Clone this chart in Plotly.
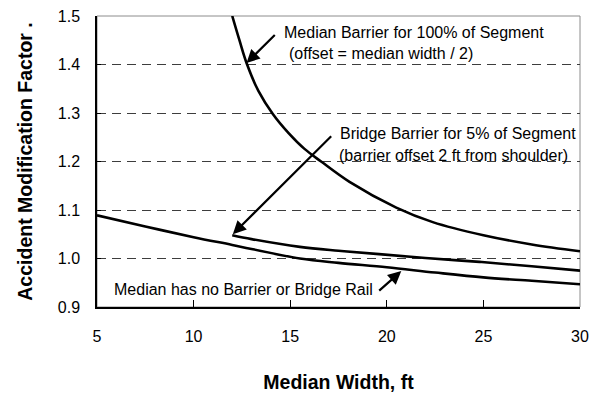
import plotly.graph_objects as go

# Median width (ft) and accident modification factor for each condition
barrier_x = [12.0, 12.38, 12.75, 13.36, 14.1, 14.93, 15.74, 16.6, 18.07, 20.49,
             22.38, 25.0, 27.5, 30.0]
barrier_y = [1.500, 1.449, 1.402, 1.345, 1.298, 1.258, 1.226, 1.200, 1.158, 1.105,
             1.075, 1.048, 1.029, 1.015]

bridge_x = [12.0, 13.0, 15.5, 17.5, 19.6, 22.0, 24.8, 27.5, 30.0]
bridge_y = [1.048, 1.040, 1.024, 1.016, 1.009, 1.001, 0.993, 0.984, 0.975]

none_x = [5.0, 7.5, 10.0, 12.0, 15.5, 17.5, 20.0, 22.5, 25.0, 27.5, 30.0]
none_y = [1.089, 1.066, 1.044, 1.028, 1.000, 0.991, 0.982, 0.971, 0.961, 0.954, 0.947]

x_ticks = [5, 10, 15, 20, 25, 30]
y_ticks = [0.9, 1.0, 1.1, 1.2, 1.3, 1.4, 1.5]

FONT = "Arial, Liberation Sans, sans-serif"

fig = go.Figure()
for xs, ys in [(barrier_x, barrier_y), (bridge_x, bridge_y), (none_x, none_y)]:
    fig.add_trace(go.Scatter(x=xs, y=ys, mode="lines",
                             line=dict(color="black", width=2.6, shape="spline", smoothing=1.0),
                             showlegend=False, hoverinfo="skip"))

# callout arrows (tail -> head in data units)
arrows = [
    ((14.28, 1.464), (12.74, 1.403)),
    ((17.20, 1.255), (12.03, 1.050)),
    ((19.53, 0.931), (20.75, 0.974)),
]
for (tx, ty), (hx, hy) in arrows:
    fig.add_annotation(x=hx, y=hy, ax=tx, ay=ty, xref="x", yref="y", axref="x", ayref="y",
                       text="", showarrow=True, arrowhead=2, arrowsize=1.2, arrowwidth=2.2,
                       arrowcolor="black")

labels = [
    (14.6, 1.467, "Median Barrier for 100% of Segment"),
    (14.85, 1.423, "(offset = median width / 2)"),
    (17.45, 1.257, "Bridge Barrier for 5% of Segment"),
    (17.4, 1.213, "(barrier offset 2 ft from shoulder)"),
    (5.8, 0.936, "Median has no Barrier or Bridge Rail"),
]
for lx, ly, txt in labels:
    fig.add_annotation(x=lx, y=ly, xref="x", yref="y", text=txt, showarrow=False,
                       xanchor="left", yanchor="middle",
                       font=dict(family=FONT, size=16, color="black"))

# plot-area frame
fig.add_shape(type="rect", xref="paper", yref="paper", x0=0, y0=0, x1=1, y1=1,
              line=dict(color="#8c8c8c", width=1), layer="below")

fig.update_layout(
    width=595, height=394,
    margin=dict(l=97, r=15, t=16, b=87),
    paper_bgcolor="white", plot_bgcolor="white",
    font=dict(family=FONT, size=16, color="black"),
    xaxis=dict(
        range=[5, 30], tickvals=x_ticks, ticktext=[str(v) for v in x_ticks],
        showgrid=False, zeroline=False, automargin=False,
        showline=True, linecolor="black", linewidth=1.5,
        ticks="inside", ticklen=7, tickcolor="black", tickwidth=1,
        ticklabelstandoff=14,
        title=dict(text="<b>Median Width, ft</b>", font=dict(size=19.5), standoff=31),
    ),
    yaxis=dict(
        range=[0.9, 1.5], tickvals=y_ticks, ticktext=[f"{v:.1f}" for v in y_ticks],
        showgrid=True, gridcolor="#3d3d3d", gridwidth=1, griddash="9px,6px",
        zeroline=False, automargin=False,
        showline=True, linecolor="black", linewidth=1.5,
        ticks="inside", ticklen=4, tickcolor="black", tickwidth=1,
        ticklabelstandoff=12,
        title=dict(text="<b>Accident Modification Factor .</b>", font=dict(size=19.5), standoff=20),
    ),
)

fig.write_html("out.html")
